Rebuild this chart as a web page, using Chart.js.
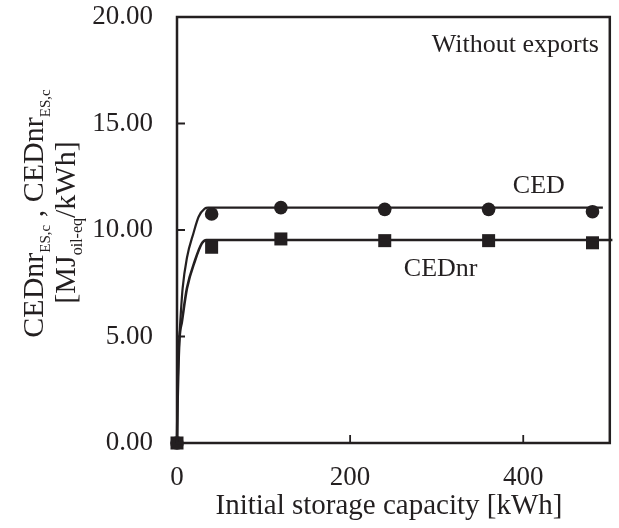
<!DOCTYPE html>
<html>
<head>
<meta charset="utf-8">
<script src="https://cdn.jsdelivr.net/npm/chart.js@4.4.0/dist/chart.umd.min.js"></script>
<style>
  html, body { margin: 0; padding: 0; background: #fff; }
  #wrap { width: 619px; height: 528px; }
</style>
</head>
<body>
<div id="wrap"><canvas id="myChart" width="619" height="528"></canvas></div>
<script>
// measured points
const capacity = [0, 40, 120, 240, 360, 480];
const cedValues = [0, 10.75, 11.05, 10.97, 10.97, 10.86];
const cednrValues = [0, 9.19, 9.58, 9.5, 9.5, 9.4];

// fitted curves
const cedFitX = [0, 0.5, 1.5, 2.7, 3.8, 6.5, 11.5, 19, 25, 32, 36, 492];
const cedFitY = [0, 2, 3.8, 4.9, 5.7, 7.26, 8.7, 9.85, 10.62, 11.0, 11.05, 11.05];
const cednrFitX = [0, 0.7, 1.8, 2.9, 5.7, 11.5, 21, 28.7, 34, 503];
const cednrFitY = [0, 2, 3.8, 4.9, 5.7, 7.26, 8.59, 9.37, 9.53, 9.53];

const xTicks = [0, 200, 400];
const yTicks = [0, 5, 10, 15, 20];

const ink = '#231f20';
const serif = "'Liberation Serif', 'Times New Roman', serif";

function pts(xs, ys) {
    return xs.map(function (x, i) { return { x: x, y: ys[i] }; });
}

// text with subscripts, left start x, baseline y
function richWidth(ctx, parts, big, small) {
    var w = 0;
    parts.forEach(function (p) {
        ctx.font = (p.sub ? small : big) + 'px ' + serif;
        w += ctx.measureText(p.t).width;
    });
    return w;
}
function drawRich(ctx, parts, x, y, big, small, drop) {
    parts.forEach(function (p) {
        ctx.font = (p.sub ? small : big) + 'px ' + serif;
        ctx.fillText(p.t, x, p.sub ? y + drop : y);
        x += ctx.measureText(p.t).width;
    });
}

const decor = {
    id: 'decor',
    afterDraw: function (chart) {
        const ctx = chart.ctx;
        const a = chart.chartArea;
        const xs = chart.scales.x, ys = chart.scales.y;
        ctx.save();
        ctx.strokeStyle = ink;
        ctx.fillStyle = ink;
        // frame
        ctx.lineWidth = 2.5;
        ctx.strokeRect(a.left, a.top, a.right - a.left, a.bottom - a.top);
        // inward ticks
        ctx.lineWidth = 1.8;
        ctx.beginPath();
        xTicks.forEach(function (v) {
            const px = xs.getPixelForValue(v);
            ctx.moveTo(px, a.bottom);
            ctx.lineTo(px, a.bottom - 8);
        });
        yTicks.forEach(function (v) {
            const py = ys.getPixelForValue(v);
            ctx.moveTo(a.left, py);
            ctx.lineTo(a.left + 8, py);
        });
        ctx.stroke();

        // annotations
        ctx.textBaseline = 'alphabetic';
        ctx.font = '26px ' + serif;
        ctx.textAlign = 'right';
        ctx.fillText('Without exports', xs.getPixelForValue(487.5), ys.getPixelForValue(18.36));
        ctx.textAlign = 'left';
        ctx.fillText('CED', xs.getPixelForValue(388), ys.getPixelForValue(11.74));
        ctx.fillText('CEDnr', xs.getPixelForValue(262), ys.getPixelForValue(7.84));

        // x title
        ctx.font = '29px ' + serif;
        ctx.textAlign = 'center';
        ctx.fillText('Initial storage capacity [kWh]', 389, 514);

        // y title, rotated
        ctx.textAlign = 'left';
        const line1 = [{ t: 'CEDnr' }, { t: 'ES,c', sub: true }, { t: ' , ' }, { t: 'CEDnr' }, { t: 'ES,c', sub: true }];
        const line2 = [{ t: '[MJ' }, { t: 'oil-eq', sub: true }, { t: '/kWh]' }];
        ctx.rotate(-Math.PI / 2);
        var w1 = richWidth(ctx, line1, 30, 15);
        drawRich(ctx, line1, -213.5 - w1 / 2, 43, 30, 15, 7);
        var w2 = richWidth(ctx, line2, 30, 16);
        drawRich(ctx, line2, -222.5 - w2 / 2, 75, 30, 16, 7);
        ctx.restore();
    }
};

const dates = {
    type: 'scatter',
    data: {
        datasets: [
            {
                label: 'CED fit',
                data: pts(cedFitX, cedFitY),
                showLine: true,
                borderColor: ink,
                borderWidth: 2.2,
                pointRadius: 0,
                cubicInterpolationMode: 'monotone',
                clip: false
            },
            {
                label: 'CEDnr fit',
                data: pts(cednrFitX, cednrFitY),
                showLine: true,
                borderColor: ink,
                borderWidth: 2.6,
                pointRadius: 0,
                cubicInterpolationMode: 'monotone',
                clip: false
            },
            {
                label: 'CED',
                data: pts(capacity, cedValues),
                pointStyle: 'circle',
                pointRadius: 6.8,
                backgroundColor: ink,
                borderColor: ink,
                borderWidth: 0,
                clip: false
            },
            {
                label: 'CEDnr',
                data: pts(capacity, cednrValues),
                pointStyle: 'rect',
                pointRadius: 9.2,
                backgroundColor: ink,
                borderColor: ink,
                borderWidth: 0,
                clip: false
            }
        ]
    },
    options: {
        responsive: false,
        animation: false,
        events: [],
        layout: { padding: { top: 17, right: 7, left: 0, bottom: 0 } },
        plugins: {
            legend: { display: false },
            tooltip: { enabled: false }
        },
        scales: {
            x: {
                type: 'linear',
                min: 0,
                max: 500,
                grid: { display: false, drawTicks: false },
                border: { display: false },
                afterBuildTicks: function (s) { s.ticks = xTicks.map(function (v) { return { value: v }; }); },
                afterFit: function (s) { s.height = 85; s.paddingLeft = 0; s.paddingRight = 0; },
                ticks: {
                    color: ink,
                    padding: 19,
                    maxRotation: 0,
                    font: { family: serif, size: 27 }
                }
            },
            y: {
                min: 0,
                max: 20,
                grid: { display: false, drawTicks: false },
                border: { display: false },
                afterBuildTicks: function (s) { s.ticks = yTicks.map(function (v) { return { value: v }; }); },
                afterFit: function (s) { s.width = 177; s.paddingTop = 0; s.paddingBottom = 0; },
                ticks: {
                    color: ink,
                    padding: 24,
                    font: { family: serif, size: 27 },
                    callback: function (v) { return Number(v).toFixed(2); }
                }
            }
        }
    },
    plugins: [decor]
};

const ctx = document.getElementById('myChart').getContext('2d');
const myChart = new Chart(ctx, dates);
</script>
</body>
</html>
